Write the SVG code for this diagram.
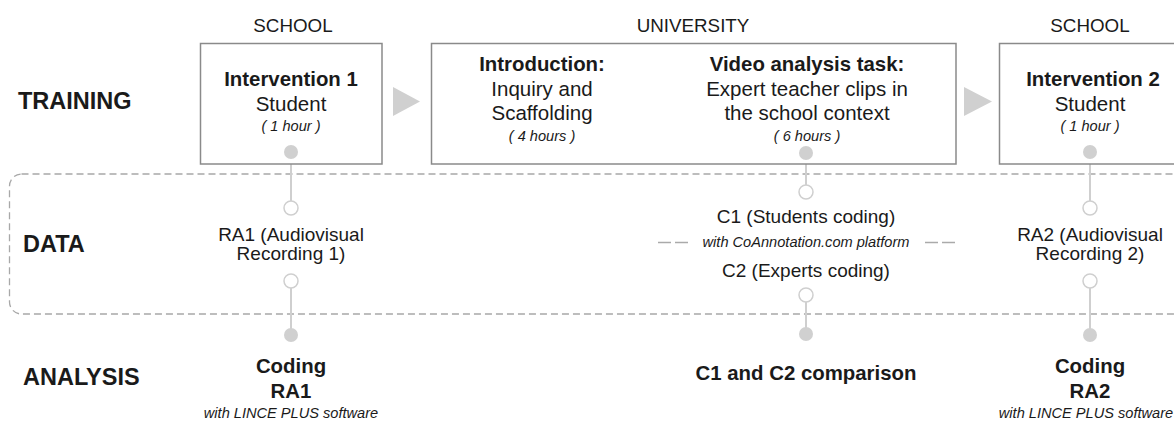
<svg xmlns="http://www.w3.org/2000/svg" width="1174" height="422" viewBox="0 0 1174 422">
<style>
text{font-family:"Liberation Sans",Arial,sans-serif;fill:#1a1a1a;text-anchor:middle}
.row{font-weight:bold;font-size:23.5px;text-anchor:start}
.hdr{font-size:18.8px}
.b{font-weight:bold;font-size:20.4px}
.r{font-size:20.5px}
.it{font-style:italic;font-size:14.6px}
.d{font-size:19px}
.box{fill:#fff;stroke:#8a8a8a;stroke-width:1.5}
.arr{fill:#d0d0d0}
.ln{stroke:#cfcfcf;stroke-width:2;fill:none}
.fc{fill:#d0d0d0}
.hc{fill:#fff;stroke:#cfcfcf;stroke-width:1.5}
</style>
<rect width="1174" height="422" fill="#fff"/>
<g id="data-band">
<rect x="9.5" y="174" width="1200" height="140" rx="12" fill="none" stroke="#a8a8a8" stroke-width="1.3" stroke-dasharray="7,4"/>
</g>
<g id="row-labels">
<text class="row" x="18" y="109">TRAINING</text>
<text class="row" x="23" y="252">DATA</text>
<text class="row" x="23" y="385">ANALYSIS</text>
</g>
<g id="headers">
<text class="hdr" x="293" y="32">SCHOOL</text>
<text class="hdr" x="693" y="32">UNIVERSITY</text>
<text class="hdr" x="1090" y="32">SCHOOL</text>
</g>
<g id="connectors">
<line class="ln" x1="291" y1="152" x2="291" y2="201"/>
<line class="ln" x1="291" y1="288" x2="291" y2="335"/>
<line class="ln" x1="806" y1="153" x2="806" y2="185"/>
<line class="ln" x1="806" y1="302" x2="806" y2="334"/>
<line class="ln" x1="1090" y1="152" x2="1090" y2="201"/>
<line class="ln" x1="1090" y1="288" x2="1090" y2="335"/>
<polygon class="arr" points="393,87 393,116 420,101.5"/>
<polygon class="arr" points="654,88 654,117 682,102.5"/>
<polygon class="arr" points="964,87 964,116 992,101.5"/>
<line x1="658" y1="242.5" x2="688" y2="242.5" stroke="#aaa" stroke-width="1.3" stroke-dasharray="13,4"/>
<line x1="925" y1="242.5" x2="955" y2="242.5" stroke="#aaa" stroke-width="1.3" stroke-dasharray="13,4"/>
</g>
<g id="intervention1">
<rect class="box" x="200.5" y="43.5" width="181.5" height="120.5"/>
<text class="b" x="291" y="86">Intervention 1</text>
<text class="r" x="291" y="111">Student</text>
<text class="it" x="291" y="131">( 1 hour )</text>
<circle class="fc" cx="291" cy="152" r="7"/>
</g>
<g id="university">
<rect class="box" x="431.5" y="43.5" width="524.5" height="120.5"/>
<text class="b" x="542" y="71">Introduction:</text>
<text class="r" x="542" y="96">Inquiry and</text>
<text class="r" x="542" y="120">Scaffolding</text>
<text class="it" x="542" y="141">( 4 hours )</text>
<text class="b" x="807" y="71">Video analysis task:</text>
<text class="r" x="807" y="96">Expert teacher clips in</text>
<text class="r" x="807" y="120">the school context</text>
<text class="it" x="807" y="141">( 6 hours )</text>
<circle class="fc" cx="806" cy="153" r="7"/>
</g>
<g id="intervention2">
<rect class="box" x="999.5" y="43.5" width="200" height="120.5"/>
<text class="b" x="1093" y="86">Intervention 2</text>
<text class="r" x="1090" y="111">Student</text>
<text class="it" x="1090" y="131">( 1 hour )</text>
<circle class="fc" cx="1090" cy="152" r="7"/>
</g>
<g id="ra1">
<circle class="hc" cx="291" cy="208" r="7"/>
<text class="d" x="291" y="241">RA1 (Audiovisual</text>
<text class="d" x="291" y="260">Recording 1)</text>
<circle class="hc" cx="291" cy="281" r="7"/>
</g>
<g id="c1c2">
<circle class="hc" cx="806" cy="192" r="7"/>
<text class="d" x="806" y="223">C1 (Students coding)</text>
<text class="it" x="806" y="247">with CoAnnotation.com platform</text>
<text class="d" x="806" y="277">C2 (Experts coding)</text>
<circle class="hc" cx="806" cy="295" r="7"/>
</g>
<g id="ra2">
<circle class="hc" cx="1090" cy="208" r="7"/>
<text class="d" x="1090" y="241">RA2 (Audiovisual</text>
<text class="d" x="1090" y="260">Recording 2)</text>
<circle class="hc" cx="1090" cy="281" r="7"/>
</g>
<g id="coding-ra1">
<circle class="fc" cx="291" cy="335" r="7"/>
<text class="b" x="291" y="373">Coding</text>
<text class="b" x="291" y="398">RA1</text>
<text class="it" x="291" y="418">with LINCE PLUS software</text>
</g>
<g id="comparison">
<circle class="fc" cx="806" cy="334" r="7"/>
<text class="b" x="806" y="380">C1 and C2 comparison</text>
</g>
<g id="coding-ra2">
<circle class="fc" cx="1090" cy="335" r="7"/>
<text class="b" x="1090" y="373">Coding</text>
<text class="b" x="1090" y="398">RA2</text>
<text class="it" x="1086" y="418">with LINCE PLUS software</text>
</g>
</svg>
